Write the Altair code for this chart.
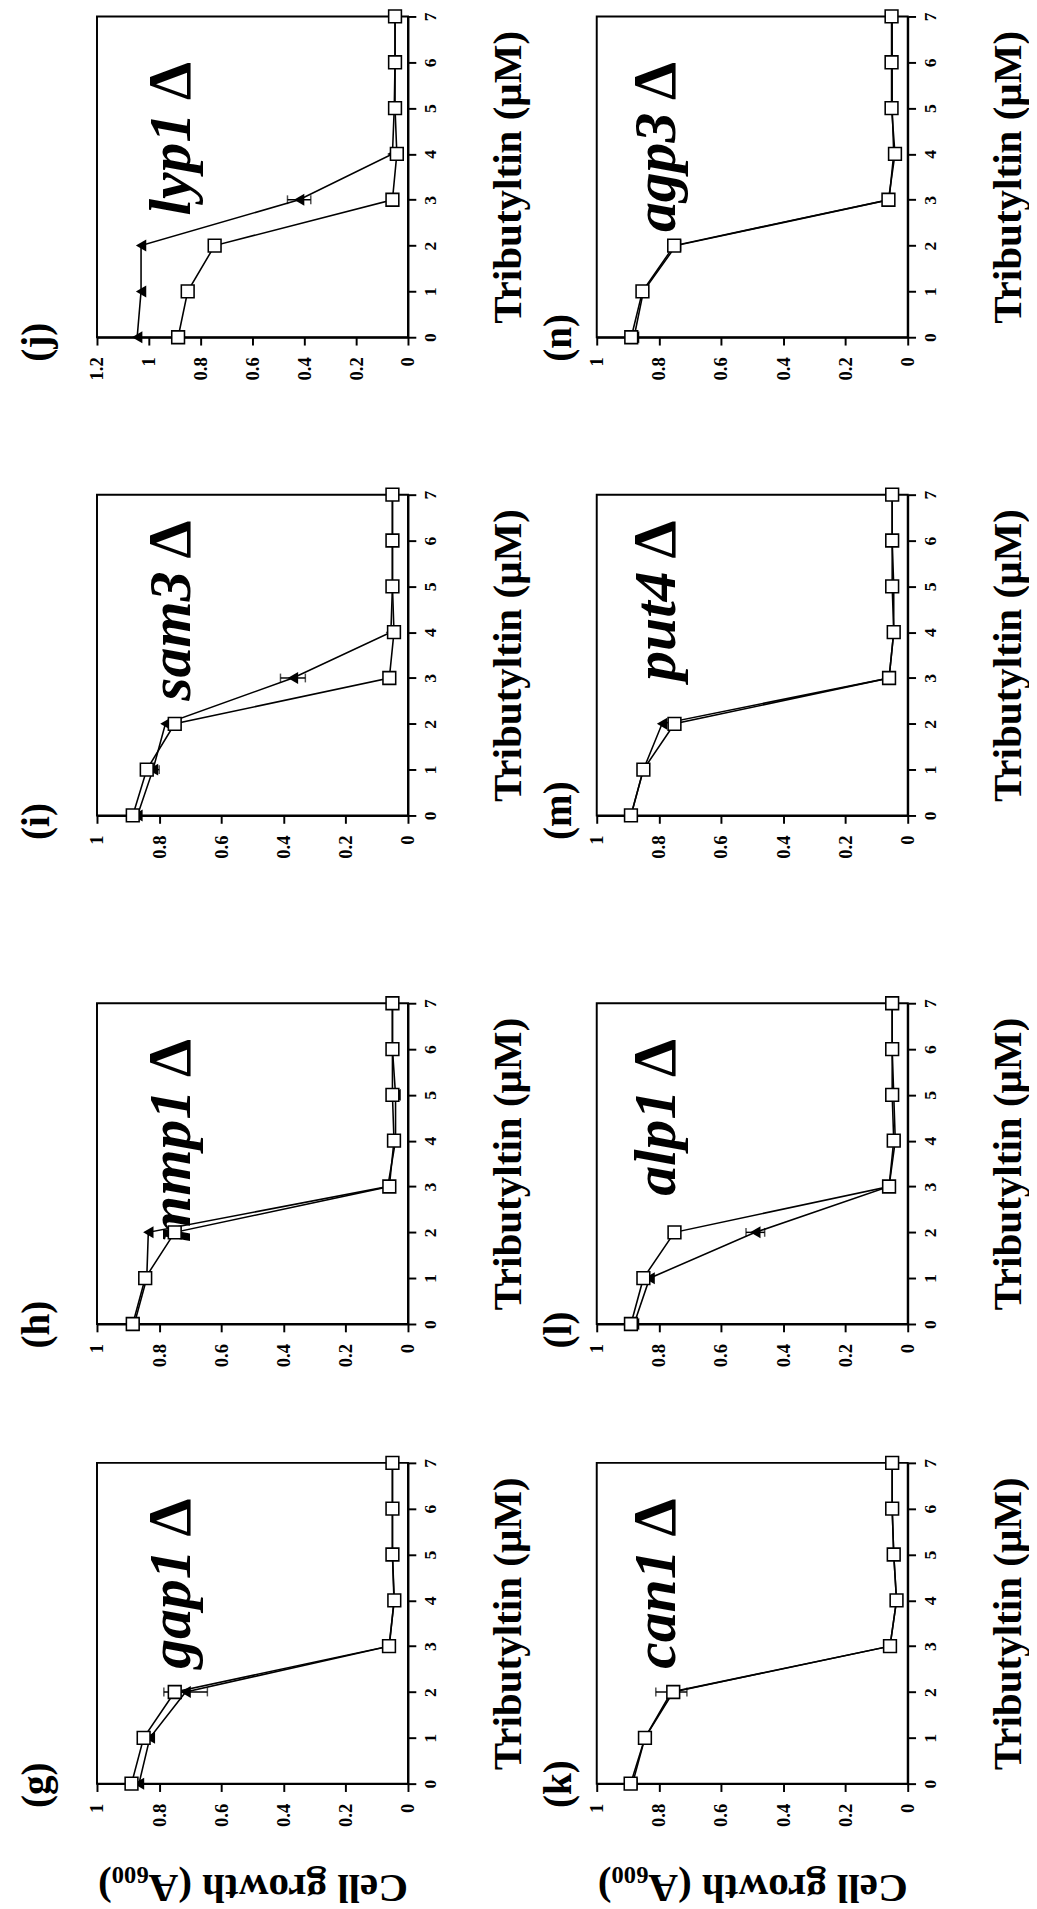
import altair as alt
import pandas as pd

# ---------------- data ----------------
tbt = [0, 1, 2, 3, 4, 5, 6, 7]

panel_keys = ["g", "h", "i", "j", "k", "l", "m", "n"]
genes = ["gap1", "mmp1", "sam3", "lyp1", "can1", "alp1", "put4", "agp3"]
delta = "Δ"

sq_g = [0.889, 0.850, 0.750, 0.061, 0.044, 0.050, 0.050, 0.050]
tri_g = [0.865, 0.830, 0.715, 0.060, 0.045, 0.050, 0.050, 0.050]
err_g = [0, 0, 0.070, 0, 0, 0, 0, 0]

sq_h = [0.885, 0.845, 0.750, 0.060, 0.045, 0.050, 0.050, 0.050]
tri_h = [0.880, 0.840, 0.835, 0.065, 0.040, 0.040, 0.050, 0.050]
err_h = [0, 0, 0, 0, 0, 0, 0, 0]

sq_i = [0.885, 0.840, 0.750, 0.060, 0.045, 0.050, 0.050, 0.050]
tri_i = [0.870, 0.820, 0.780, 0.370, 0.055, 0.050, 0.050, 0.050]
err_i = [0, 0.020, 0, 0.040, 0, 0, 0, 0]

sq_j = [0.887, 0.850, 0.746, 0.060, 0.043, 0.050, 0.050, 0.050]
tri_j = [1.045, 1.030, 1.030, 0.420, 0.060, 0.053, 0.050, 0.050]
err_j = [0, 0, 0, 0.045, 0, 0, 0, 0]

sq_k = [0.891, 0.845, 0.754, 0.057, 0.036, 0.045, 0.050, 0.050]
tri_k = [0.885, 0.845, 0.760, 0.057, 0.036, 0.045, 0.050, 0.050]
err_k = [0, 0, 0.050, 0, 0, 0, 0, 0]

sq_l = [0.890, 0.850, 0.750, 0.060, 0.045, 0.050, 0.050, 0.050]
tri_l = [0.880, 0.830, 0.490, 0.060, 0.040, 0.045, 0.050, 0.050]
err_l = [0, 0, 0.030, 0, 0, 0, 0, 0]

sq_m = [0.890, 0.850, 0.750, 0.060, 0.045, 0.050, 0.050, 0.050]
tri_m = [0.890, 0.850, 0.790, 0.060, 0.045, 0.045, 0.050, 0.050]
err_m = [0, 0, 0, 0, 0, 0, 0, 0]

sq_n = [0.889, 0.853, 0.751, 0.062, 0.041, 0.052, 0.052, 0.052]
tri_n = [0.880, 0.850, 0.745, 0.060, 0.045, 0.050, 0.050, 0.050]
err_n = [0, 0, 0, 0, 0, 0, 0, 0]

growth_ticks_1 = [0, 0.2, 0.4, 0.6, 0.8, 1.0]
growth_ticks_12 = [0, 0.2, 0.4, 0.6, 0.8, 1.0, 1.2]

xlabel = "Cell growth (A₆₀₀)"
ylabel = "Tributyltin (μM)"

series_sq = {"g": sq_g, "h": sq_h, "i": sq_i, "j": sq_j, "k": sq_k, "l": sq_l, "m": sq_m, "n": sq_n}
series_tri = {"g": tri_g, "h": tri_h, "i": tri_i, "j": tri_j, "k": tri_k, "l": tri_l, "m": tri_m, "n": tri_n}
series_err = {"g": err_g, "h": err_h, "i": err_i, "j": err_j, "k": err_k, "l": err_l, "m": err_m, "n": err_n}

# ---------------- style ----------------
FONT = "Liberation Serif"
W, H = 318, 328
# vertical placement (px from panel top) of the "Δ" annotation, by row
delta_top = {"j": 46, "n": 46, "i": 26, "m": 26, "h": 36, "l": 36, "g": 36, "k": 36}


def panel(key, gene, right_col, bottom_row):
    sq = series_sq[key]
    tri = series_tri[key]
    err = series_err[key]
    top = 1.2 if key == "j" else 1.0
    ticks = growth_ticks_12 if key == "j" else growth_ticks_1

    df_sq = pd.DataFrame({"tbt": tbt, "growth": sq})
    df_tri = pd.DataFrame({"tbt": tbt, "growth": tri, "err": err})
    df_tri["lo"] = df_tri["growth"] - df_tri["err"]
    df_tri["hi"] = df_tri["growth"] + df_tri["err"]
    df_err = df_tri[df_tri["err"] > 0]

    xs = alt.Scale(domain=[0, top], reverse=True, nice=False, zero=True)
    ys = alt.Scale(domain=[0, 7], nice=False)

    xaxis_kw = dict(
        orient="bottom", values=ticks, format="~g", grid=False,
        labelAngle=270, labelAlign="right", labelBaseline="middle",
        labelFont=FONT, labelFontSize=19, labelFontWeight="bold", labelColor="black",
        labelPadding=12, labelFlush=False, labelOverlap=False,
        tickSize=8, tickWidth=2, tickColor="black",
        domainColor="black", domainWidth=2,
    )
    if bottom_row:
        xaxis_kw.update(title=xlabel, titleFont=FONT, titleFontSize=42, titleFontWeight="bold",
                        titleColor="black", titleAngle=180, titleBaseline="bottom", titlePadding=40)
    else:
        xaxis_kw.update(title=None)
    xaxis = alt.Axis(**xaxis_kw)

    yaxis = alt.Axis(
        orient="right", values=tbt, format="d", grid=False,
        labelAngle=270, labelAlign="center", labelBaseline="top",
        labelFont=FONT, labelFontSize=18, labelFontWeight="bold", labelColor="black",
        labelPadding=6, labelFlush=False,
        tickSize=8, tickWidth=2, tickColor="black",
        domainColor="black", domainWidth=2,
        title=ylabel, titleFont=FONT, titleFontSize=42, titleFontWeight="bold",
        titleColor="black", titleAngle=270, titleBaseline="top", titlePadding=50,
    )

    gx = 80 if right_col else 95
    dy = delta_top[key]
    gene_axis = alt.Axis(
        orient="top", labels=False, ticks=False, domain=False, grid=False,
        title=gene, titleFont=FONT, titleFontSize=61, titleFontStyle="italic",
        titleFontWeight="bold", titleColor="black", titleAngle=270,
        titleAlign="right", titleBaseline="alphabetic",
        titleX=gx, titleY=dy + 52,
    )
    delta_axis = alt.Axis(
        orient="top", labels=False, ticks=False, domain=False, grid=False,
        title=delta, titleFont=FONT, titleFontSize=62, titleFontStyle="normal",
        titleFontWeight="bold", titleColor="black", titleAngle=270,
        titleAlign="right", titleBaseline="alphabetic",
        titleX=gx, titleY=dy,
    )

    line_tri = alt.Chart(df_tri).mark_line(color="black", strokeWidth=1.6).encode(
        x=alt.X("growth:Q", scale=xs, axis=xaxis),
        y=alt.Y("tbt:Q", scale=ys, axis=yaxis),
        order="tbt:Q",
    )
    line_sq = alt.Chart(df_sq).mark_line(color="black", strokeWidth=1.6).encode(
        x=alt.X("growth:Q", scale=xs, axis=None),
        y=alt.Y("tbt:Q", scale=ys, axis=None),
        order="tbt:Q",
    )
    bars = alt.Chart(df_err).mark_rule(color="black", strokeWidth=1.5).encode(
        x=alt.X("lo:Q", scale=xs, axis=None), x2="hi:Q",
        y=alt.Y("tbt:Q", scale=ys, axis=None),
    )
    cap_lo = alt.Chart(df_err).mark_tick(orient="vertical", color="black", size=9, thickness=1.5).encode(
        x=alt.X("lo:Q", scale=xs, axis=None), y=alt.Y("tbt:Q", scale=ys, axis=None),
    )
    cap_hi = alt.Chart(df_err).mark_tick(orient="vertical", color="black", size=9, thickness=1.5).encode(
        x=alt.X("hi:Q", scale=xs, axis=None), y=alt.Y("tbt:Q", scale=ys, axis=None),
    )
    pts_tri = alt.Chart(df_tri).mark_point(
        shape="triangle-left", filled=True, color="black", size=150, opacity=1
    ).encode(
        x=alt.X("growth:Q", scale=xs, axis=None), y=alt.Y("tbt:Q", scale=ys, axis=None),
    )
    pts_sq = alt.Chart(df_sq).mark_point(
        shape="square", filled=True, fill="white", stroke="black", strokeWidth=1.6,
        size=170, opacity=1
    ).encode(
        x=alt.X("growth:Q", scale=xs, axis=None), y=alt.Y("tbt:Q", scale=ys, axis=None),
    )
    gene_layer = alt.Chart(df_sq).mark_point(opacity=0).encode(
        x=alt.X("growth:Q", scale=xs, axis=gene_axis),
        y=alt.Y("tbt:Q", scale=ys, axis=None),
    )
    delta_layer = alt.Chart(df_sq).mark_point(opacity=0).encode(
        x=alt.X("growth:Q", scale=xs, axis=delta_axis),
        y=alt.Y("tbt:Q", scale=ys, axis=None),
    )

    return alt.layer(
        line_tri, line_sq, bars, cap_lo, cap_hi, pts_tri, pts_sq, gene_layer, delta_layer
    ).resolve_axis(x="independent", y="independent").properties(
        width=W, height=H,
        title=alt.TitleParams(
            text="(" + key + ")", orient="left", anchor="start", frame="group",
            font=FONT, fontSize=40, fontWeight="bold", color="black",
            offset=(9 if right_col else 32), dx=-25,
        ),
    )


def row(left_key, right_key, bottom_row=False):
    li = panel_keys.index(left_key)
    ri = panel_keys.index(right_key)
    return alt.hconcat(
        panel(left_key, genes[li], False, bottom_row),
        panel(right_key, genes[ri], True, bottom_row),
        spacing=10,
    )


r_top = row("j", "n")
r_2 = row("i", "m")
r_3 = row("h", "l")
r_bot = row("g", "k", bottom_row=True)

chart = alt.vconcat(
    r_top,
    alt.vconcat(r_2, alt.vconcat(r_3, r_bot, spacing=86), spacing=136),
    spacing=105,
).properties(
    padding={"left": 9, "top": -24, "right": 0, "bottom": 0},
    background="white",
).configure_view(stroke="black", strokeWidth=2)

chart.save("out.html", embed_options={"renderer": "svg", "actions": False})
